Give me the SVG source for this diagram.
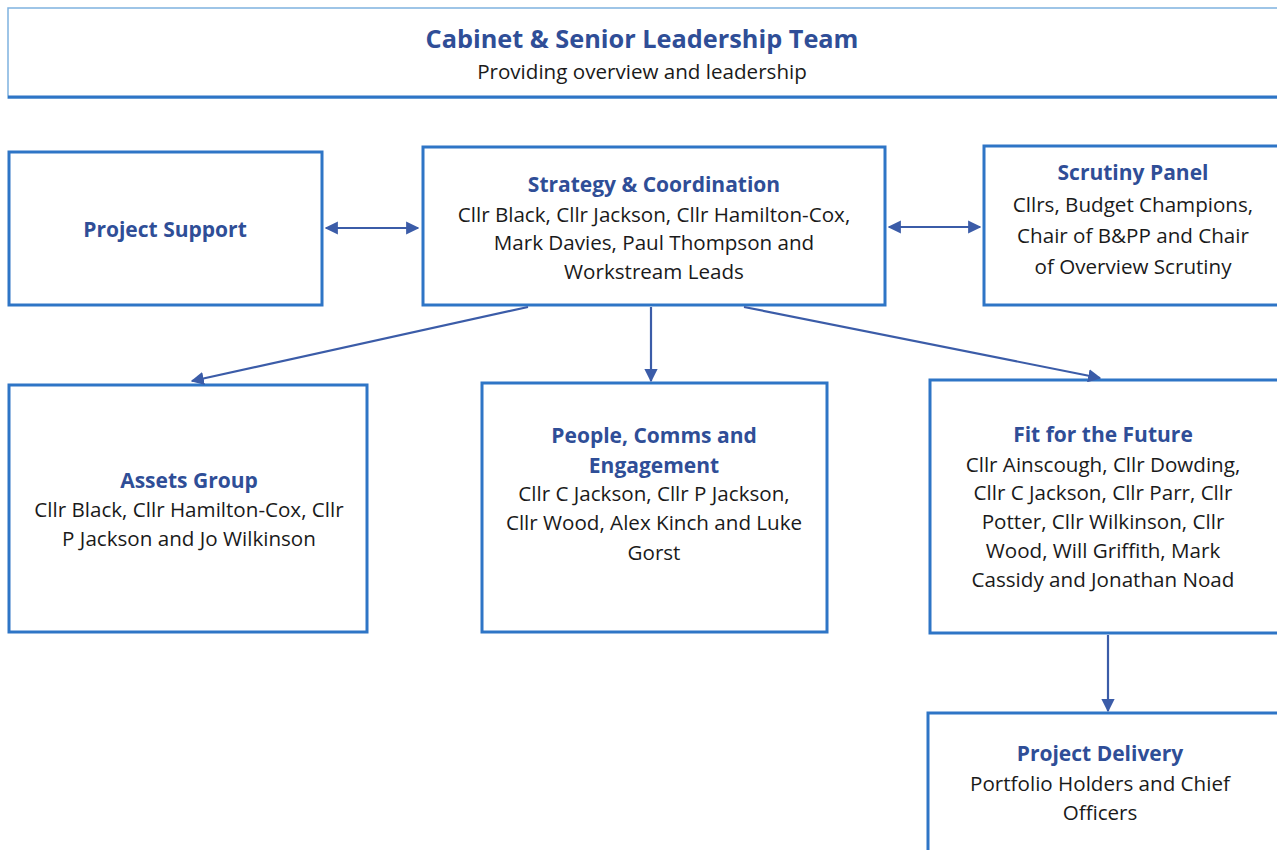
<svg xmlns="http://www.w3.org/2000/svg" width="1277" height="850" viewBox="0 0 1277 850">
<defs>
<style>
.box{fill:#fff;stroke:#2e75c6;stroke-width:3}
.t{font-family:"Open Sans","Liberation Sans",sans-serif;font-weight:bold;fill:#2f4e97;text-anchor:middle;font-size:21px}
.b{font-family:"Open Sans","Liberation Sans",sans-serif;fill:#1a1a1a;text-anchor:middle;font-size:20.6px}
.c{stroke:#3b5ca8;stroke-width:2.2;fill:none}
</style>
<marker id="ah" viewBox="0 0 10 10" refX="9" refY="5" markerWidth="6" markerHeight="6" orient="auto-start-reverse" markerUnits="strokeWidth">
<path d="M0,0 L10,5 L0,10 z" fill="#3b5ca8"/>
</marker>
</defs>
<rect width="1277" height="850" fill="#fff"/>
<g id="cabinet">
<rect x="8" y="8" width="1280" height="90" fill="#fff" stroke="#7fb2e0" stroke-width="1.5"/>
<line x1="8" y1="97" x2="1277" y2="97" stroke="#2e75c6" stroke-width="3"/>
<text class="t" x="642" y="48" style="font-size:25.3px">Cabinet &amp; Senior Leadership Team</text>
<text class="b" x="642" y="79">Providing overview and leadership</text>
</g>
<g id="project-support">
<rect class="box" x="9" y="152" width="313" height="153"/>
<text class="t" x="165" y="237">Project Support</text>
</g>
<g id="strategy">
<rect class="box" x="423" y="147" width="462" height="158"/>
<text class="t" x="654" y="192">Strategy &amp; Coordination</text>
<text class="b" x="654" y="222">Cllr Black, Cllr Jackson, Cllr Hamilton-Cox,</text>
<text class="b" x="654" y="250">Mark Davies, Paul Thompson and</text>
<text class="b" x="654" y="279">Workstream Leads</text>
</g>
<g id="scrutiny">
<rect class="box" x="984" y="146" width="310" height="159"/>
<text class="t" x="1133" y="180">Scrutiny Panel</text>
<text class="b" x="1133" y="212">Cllrs, Budget Champions,</text>
<text class="b" x="1133" y="243">Chair of B&amp;PP and Chair</text>
<text class="b" x="1133" y="274">of Overview Scrutiny</text>
</g>
<g id="assets">
<rect class="box" x="9" y="385" width="358" height="247"/>
<text class="t" x="189" y="488">Assets Group</text>
<text class="b" x="189" y="517">Cllr Black, Cllr Hamilton-Cox, Cllr</text>
<text class="b" x="189" y="546">P Jackson and Jo Wilkinson</text>
</g>
<g id="people">
<rect class="box" x="482" y="383" width="345" height="249"/>
<text class="t" x="654" y="443">People, Comms and</text>
<text class="t" x="654" y="473">Engagement</text>
<text class="b" x="654" y="501">Cllr C Jackson, Cllr P Jackson,</text>
<text class="b" x="654" y="530">Cllr Wood, Alex Kinch and Luke</text>
<text class="b" x="654" y="560">Gorst</text>
</g>
<g id="fit-future">
<rect class="box" x="930" y="380" width="360" height="253"/>
<text class="t" x="1103" y="442">Fit for the Future</text>
<text class="b" x="1103" y="472">Cllr Ainscough, Cllr Dowding,</text>
<text class="b" x="1103" y="500">Cllr C Jackson, Cllr Parr, Cllr</text>
<text class="b" x="1103" y="529">Potter, Cllr Wilkinson, Cllr</text>
<text class="b" x="1103" y="558">Wood, Will Griffith, Mark</text>
<text class="b" x="1103" y="587">Cassidy and Jonathan Noad</text>
</g>
<g id="project-delivery">
<rect class="box" x="928" y="713" width="362" height="150"/>
<text class="t" x="1100" y="761">Project Delivery</text>
<text class="b" x="1100" y="791">Portfolio Holders and Chief</text>
<text class="b" x="1100" y="820">Officers</text>
</g>
<g id="connectors">
<line class="c" x1="326" y1="228" x2="418" y2="228" marker-start="url(#ah)" marker-end="url(#ah)"/>
<line class="c" x1="889" y1="227" x2="980" y2="227" marker-start="url(#ah)" marker-end="url(#ah)"/>
<line class="c" x1="528" y1="307" x2="192" y2="381" marker-end="url(#ah)"/>
<line class="c" x1="651" y1="307" x2="651" y2="381" marker-end="url(#ah)"/>
<line class="c" x1="744" y1="307" x2="1100" y2="378" marker-end="url(#ah)"/>
<line class="c" x1="1108" y1="635" x2="1108" y2="711" marker-end="url(#ah)"/>
</g>
</svg>
